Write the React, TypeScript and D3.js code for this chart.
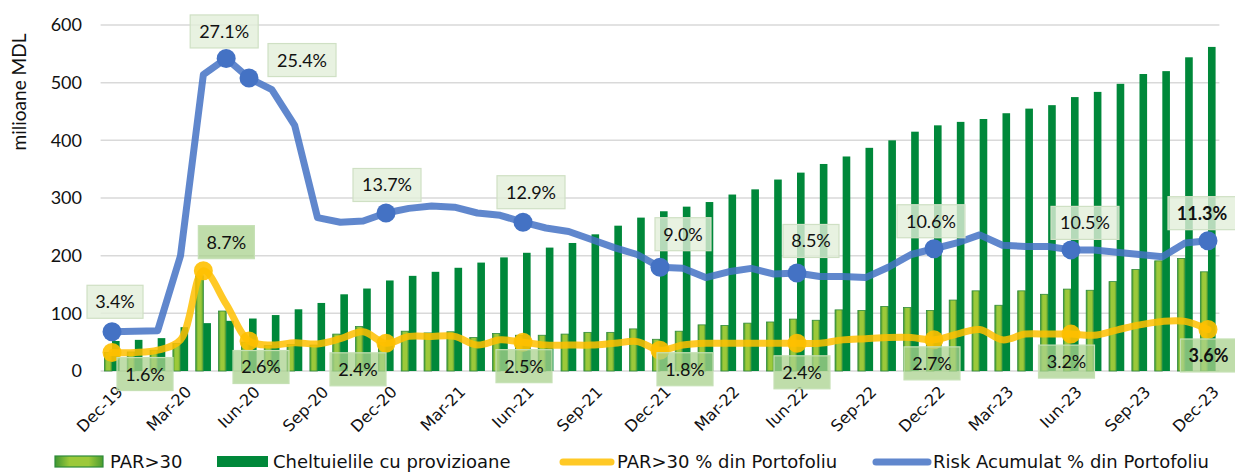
import * as d3 from 'd3'

const WIDTH = 1235
const HEIGHT = 473
const MARGIN = { top: 25, right: 15.6, bottom: 102, left: 100.6 }

// luni (Dec-19 ... Dec-23)
const months = [
  'Dec-19',
  'Ian-20', 'Feb-20', 'Mar-20', 'Apr-20', 'Mai-20', 'Iun-20', 'Iul-20', 'Aug-20', 'Sep-20', 'Oct-20', 'Noi-20', 'Dec-20',
  'Ian-21', 'Feb-21', 'Mar-21', 'Apr-21', 'Mai-21', 'Iun-21', 'Iul-21', 'Aug-21', 'Sep-21', 'Oct-21', 'Noi-21', 'Dec-21',
  'Ian-22', 'Feb-22', 'Mar-22', 'Apr-22', 'Mai-22', 'Iun-22', 'Iul-22', 'Aug-22', 'Sep-22', 'Oct-22', 'Noi-22', 'Dec-22',
  'Ian-23', 'Feb-23', 'Mar-23', 'Apr-23', 'Mai-23', 'Iun-23', 'Iul-23', 'Aug-23', 'Sep-23', 'Oct-23', 'Noi-23', 'Dec-23',
]

// milioane MDL
const par30 = [
  32,
  33, 36, 48, 165, 104, 50, 44, 46, 45, 64, 77, 50,
  69, 66, 68, 58, 65, 62, 62, 64, 67, 67, 73, 55,
  69, 80, 79, 83, 85, 90, 88, 106, 105, 112, 110, 105,
  123, 139, 114, 139, 133, 142, 140, 155, 176, 191, 195, 172,
]

const provizioane = [
  52,
  54, 57, 76, 83, 87, 91, 97, 107, 118, 133, 143, 157,
  165, 172, 179, 188, 197, 205, 214, 222, 237, 252, 266, 277,
  285, 293, 306, 315, 332, 344, 359, 372, 387, 400, 415, 426,
  432, 437, 447, 455, 461, 475, 484, 498, 515, 520, 544, 562,
]

// % din portofoliu
const parPct = [
  1.6,
  1.6, 1.8, 2.7, 8.7, 5.8, 2.6, 2.25, 2.45, 2.35, 2.8, 3.4, 2.4,
  3.0, 3.0, 3.0, 2.25, 2.7, 2.5, 2.25, 2.25, 2.25, 2.4, 2.55, 1.8,
  2.25, 2.4, 2.4, 2.4, 2.4, 2.4, 2.4, 2.7, 2.8, 2.9, 2.9, 2.7,
  3.2, 3.6, 2.7, 3.2, 3.2, 3.2, 3.1, 3.55, 4.0, 4.3, 4.3, 3.6,
]

const riskPct = [
  3.4,
  3.45, 3.5, 10.0, 25.7, 27.1, 25.4, 24.4, 21.3, 13.3, 12.9, 13.0, 13.7,
  14.1, 14.3, 14.2, 13.7, 13.5, 12.9, 12.4, 12.1, 11.4, 10.7, 10.1, 9.0,
  8.9, 8.1, 8.6, 8.9, 8.4, 8.5, 8.2, 8.2, 8.1, 9.0, 10.1, 10.6,
  11.1, 11.8, 10.9, 10.8, 10.8, 10.5, 10.5, 10.3, 10.1, 9.9, 11.1, 11.3,
]

const yTicks = [0, 100, 200, 300, 400, 500, 600]

// puncte cu etichete
const riskLabelIdx = [0, 5, 6, 12, 18, 24, 30, 36, 42, 48]
const parLabelIdx = [0, 4, 6, 12, 18, 24, 30, 36, 42, 48]

// plasarea etichetelor (centrul casetei fata de punct)
const riskLabelOffset = [[3, -30], [-2, -27], [53, -18], [1, -28], [8, -30], [23, -33], [14, -32], [-3, -27.5], [14, -27], [-6, -27.5]]
const parLabelOffset = [[33, 21.5], [23, -28.5], [12, 26], [-28, 26], [1, 24], [25, 19], [5, 29], [-2, 23.5], [-4.5, 27.5], [0.5, 26]]

const DARK = '#00883a'
const BLUE = '#4472c4'
const GOLD = '#ffc000'
const LABEL_FONT = 'Lato, "Open Sans", sans-serif'
const CAT_FONT = '"DejaVu Sans", Verdana, sans-serif'

export default function App() {
  const innerBottom = HEIGHT - MARGIN.bottom

  const x = d3.scaleBand<string>()
    .domain(months)
    .range([MARGIN.left, WIDTH - MARGIN.right])
    .paddingInner(0)
    .paddingOuter(0)

  const sub = d3.scaleBand<string>()
    .domain(['par', 'prov'])
    .range([0, x.bandwidth()])
    .paddingInner(0)
    .paddingOuter(0.5)

  const y = d3.scaleLinear().domain([0, 600]).range([innerBottom, MARGIN.top])
  const yPct = d3.scaleLinear().domain([0, 30]).range([innerBottom, MARGIN.top])

  const cx = (i: number) => (x(months[i]) ?? 0) + x.bandwidth() / 2

  const riskLine = d3.line<number>()
    .x((_, i) => cx(i))
    .y(d => yPct(d))
    .curve(d3.curveLinear)

  const parLine = d3.line<number>()
    .x((_, i) => cx(i))
    .y(d => yPct(d))
    .curve(d3.curveCatmullRom.alpha(0.5))

  const fmt = (v: number) => `${v.toFixed(1)}%`
  const boxW = (s: string) => s.length * 12 + 8

  const renderLabel = (
    key: string, px: number, py: number, off: number[], text: string,
    fill: string, stroke: string, opacity: number, bold: boolean,
  ) => {
    const bx = px + off[0]
    const by = py + off[1]
    const w = boxW(text)
    return (
      <g key={key}>
        <rect x={bx - w / 2} y={by - 16.5} width={w} height={33}
          fill={fill} fillOpacity={opacity} stroke={stroke} strokeWidth={1.2} />
        <text x={bx} y={by} dy="0.36em" textAnchor="middle" fontFamily={LABEL_FONT}
          fontSize={18} fontWeight={bold ? 700 : 400} fill="#111">{text}</text>
      </g>
    )
  }

  return (
    <svg width={WIDTH} height={HEIGHT} style={{ position: 'absolute', left: 0, top: 0, background: '#fff' }}>
      <defs>
        <linearGradient id="parGrad" x1="0" x2="1" y1="0" y2="0">
          <stop offset="0%" stopColor="#3f9632" />
          <stop offset="30%" stopColor="#9cc93a" />
          <stop offset="70%" stopColor="#9cc93a" />
          <stop offset="100%" stopColor="#4b9c30" />
        </linearGradient>
      </defs>

      {/* grid */}
      {yTicks.map(t => (
        <g key={`g${t}`}>
          <line x1={MARGIN.left} x2={WIDTH - MARGIN.right} y1={y(t)} y2={y(t)} stroke="#d9d9d9" strokeWidth={1.5} />
          <text x={82} y={y(t)} dy="0.36em" textAnchor="end" fontFamily={LABEL_FONT} fontSize={18} fill="#111">{t}</text>
        </g>
      ))}

      <text transform={`translate(26, 92) rotate(-90)`} textAnchor="middle" fontFamily={LABEL_FONT} fontSize={19} fill="#111">
        milioane MDL
      </text>

      {/* bare */}
      {months.map((m, i) => {
        const x0 = x(m) ?? 0
        return (
          <g key={m}>
            <rect x={x0 + (sub('par') ?? 0)} y={y(par30[i])} width={sub.bandwidth()} height={innerBottom - y(par30[i])}
              fill="url(#parGrad)" stroke="#2e8b3a" strokeWidth={0.8} />
            <rect x={x0 + (sub('prov') ?? 0)} y={y(provizioane[i])} width={sub.bandwidth()} height={innerBottom - y(provizioane[i])}
              fill={DARK} />
          </g>
        )
      })}

      {/* axa x */}
      {months.map((m, i) => i % 3 === 0 ? (
        <text key={`t${m}`} transform={`translate(${cx(i) + 4}, ${innerBottom + 14}) rotate(-45)`}
          textAnchor="end" dy="0.7em" fontFamily={CAT_FONT} fontSize={16} fill="#111">{m}</text>
      ) : null)}

      {/* linii */}
      <path d={parLine(parPct) ?? ''} fill="none" stroke={GOLD} strokeOpacity={0.85} strokeWidth={7}
        strokeLinejoin="round" strokeLinecap="round" />
      <path d={riskLine(riskPct) ?? ''} fill="none" stroke={BLUE} strokeOpacity={0.85} strokeWidth={7}
        strokeLinejoin="round" strokeLinecap="round" />

      {parLabelIdx.map(i => (
        <circle key={`pm${i}`} cx={cx(i)} cy={yPct(parPct[i])} r={9.5} fill={GOLD} fillOpacity={0.9} />
      ))}
      {riskLabelIdx.map(i => (
        <circle key={`rm${i}`} cx={cx(i)} cy={yPct(riskPct[i])} r={9.5} fill={BLUE} />
      ))}

      {/* etichete */}
      {riskLabelIdx.map((i, k) => renderLabel(`rl${i}`, cx(i), yPct(riskPct[i]), riskLabelOffset[k], fmt(riskPct[i]),
        '#e2efda', '#cfe0c4', 0.8, i === months.length - 1))}
      {parLabelIdx.map((i, k) => renderLabel(`pl${i}`, cx(i), yPct(parPct[i]), parLabelOffset[k], fmt(parPct[i]),
        '#a9d18e', '#c5e0b4', 0.75, i === months.length - 1))}

      {/* legenda */}
      <g fontFamily={CAT_FONT} fontSize={18} fill="#111">
        <rect x={55} y={456} width={48} height={11} fill="url(#parGrad)" stroke="#2e8b3a" strokeWidth={1.2} />
        <text x={110} y={468}>PAR&gt;30</text>
        <rect x={217} y={456} width={51} height={11} fill={DARK} />
        <text x={273} y={468}>Cheltuielile cu provizioane</text>
        <line x1={563} x2={611} y1={462} y2={462} stroke={GOLD} strokeWidth={7} strokeLinecap="round" strokeOpacity={0.85} />
        <text x={617} y={468}>PAR&gt;30 % din Portofoliu</text>
        <line x1={876} x2={928} y1={462} y2={462} stroke={BLUE} strokeWidth={7} strokeLinecap="round" strokeOpacity={0.85} />
        <text x={933} y={468}>Risk Acumulat % din Portofoliu</text>
      </g>
    </svg>
  )
}
